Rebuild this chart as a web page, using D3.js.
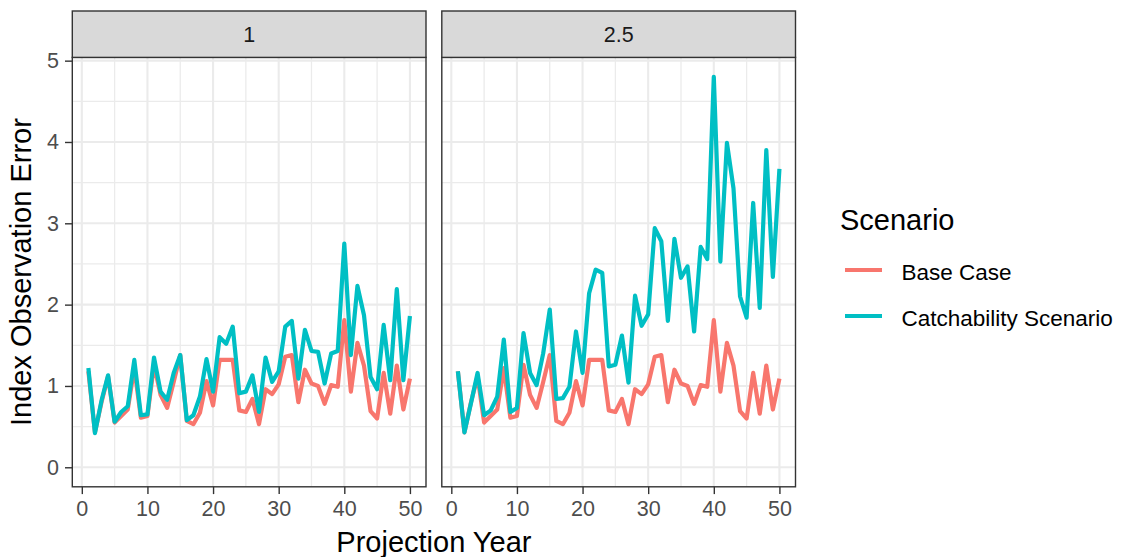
<!DOCTYPE html>
<html>
<head>
<meta charset="utf-8">
<script src="https://cdn.jsdelivr.net/npm/d3@7"></script>
<style>
  html, body { margin: 0; padding: 0; background: #ffffff; }
  svg { display: block; font-family: "Liberation Sans", Arial, sans-serif; }
</style>
</head>
<body>
<svg id="chart" width="1124" height="557"></svg>
<script>
// ---------------- data ----------------
const years = d3.range(1, 51);
const facets = ["1", "2.5"];
const scenarios = ["Base Case", "Catchability Scenario"];
const scenarioColors = ["#F8766D", "#00BFC4"];

const baseCase = [1.18, 0.43, 0.80, 1.12, 0.55, 0.63, 0.71, 1.22, 0.61, 0.63,
                  1.26, 0.89, 0.73, 1.05, 1.38, 0.57, 0.53, 0.67, 1.06, 0.76,
                  1.32, 1.32, 1.32, 0.70, 0.68, 0.84, 0.53, 0.96, 0.90, 1.02,
                  1.36, 1.38, 0.80, 1.20, 1.03, 1.00, 0.78, 1.01, 0.99, 1.81,
                  0.93, 1.53, 1.25, 0.69, 0.60, 1.16, 0.66, 1.25, 0.71, 1.09];

const catchability1 = [1.22, 0.42, 0.82, 1.13, 0.56, 0.68, 0.75, 1.32, 0.64, 0.65,
                       1.35, 0.93, 0.83, 1.16, 1.38, 0.58, 0.64, 0.87, 1.33, 0.93,
                       1.60, 1.52, 1.73, 0.91, 0.93, 1.13, 0.68, 1.35, 1.05, 1.18,
                       1.73, 1.80, 1.09, 1.69, 1.43, 1.42, 1.03, 1.40, 1.43, 2.75,
                       1.38, 2.23, 1.87, 1.11, 0.96, 1.75, 1.07, 2.19, 1.07, 1.86];

const catchability25 = [1.18, 0.43, 0.79, 1.16, 0.64, 0.70, 0.87, 1.57, 0.68, 0.73,
                        1.65, 1.16, 1.01, 1.40, 1.94, 0.84, 0.85, 0.99, 1.67, 1.16,
                        2.14, 2.43, 2.39, 1.24, 1.26, 1.62, 1.04, 2.11, 1.74, 1.88,
                        2.94, 2.78, 1.80, 2.81, 2.33, 2.47, 1.67, 2.71, 2.56, 4.80,
                        2.53, 3.99, 3.43, 2.10, 1.84, 3.25, 1.96, 3.90, 2.34, 3.67];

const xTicks = [0, 10, 20, 30, 40, 50];
const yTicks = [0, 1, 2, 3, 4, 5];

const facetSeries = [
  [baseCase, catchability1],
  [baseCase, catchability25]
];

// ---------------- layout ----------------
const svg = d3.select("#chart");
const panelW = 353.7, panelTop = 57.4, panelBottom = 486.8;
const panelLefts = [72.3, 441.8];
const stripTop = 11;

const allVals = [].concat(baseCase, catchability1, catchability25, [0]);
const yMin = d3.min(allVals), yMax = d3.max(allVals);
const yPad = (yMax - yMin) * 0.05;
const y = d3.scaleLinear().domain([yMin - yPad, yMax + yPad]).range([panelBottom, panelTop]);
const xPad = (d3.max(years) - d3.min(years)) * 0.05;
const xDomain = [d3.min(years) - xPad, d3.max(years) + xPad];

const gridMajor = "#EBEBEB", border = "#333333", tickCol = "#4D4D4D";

facets.forEach((f, fi) => {
  const left = panelLefts[fi];
  const x = d3.scaleLinear().domain(xDomain).range([left, left + panelW]);
  const g = svg.append("g");

  g.append("rect").attr("x", left).attr("y", panelTop).attr("width", panelW)
    .attr("height", panelBottom - panelTop).attr("fill", "#fff");

  const xMinor = [5, 15, 25, 35, 45];
  const yMinor = [0.5, 1.5, 2.5, 3.5, 4.5];
  g.selectAll(".xmin").data(xMinor).join("line")
    .attr("x1", d => x(d)).attr("x2", d => x(d))
    .attr("y1", panelTop).attr("y2", panelBottom)
    .attr("stroke", gridMajor).attr("stroke-width", 1.3);
  g.selectAll(".ymin").data(yMinor).join("line")
    .attr("y1", d => y(d)).attr("y2", d => y(d))
    .attr("x1", left).attr("x2", left + panelW)
    .attr("stroke", gridMajor).attr("stroke-width", 1.3);
  g.selectAll(".xmaj").data(xTicks).join("line")
    .attr("x1", d => x(d)).attr("x2", d => x(d))
    .attr("y1", panelTop).attr("y2", panelBottom)
    .attr("stroke", gridMajor).attr("stroke-width", 2.1);
  g.selectAll(".ymaj").data(yTicks).join("line")
    .attr("y1", d => y(d)).attr("y2", d => y(d))
    .attr("x1", left).attr("x2", left + panelW)
    .attr("stroke", gridMajor).attr("stroke-width", 2.1);

  const line = d3.line().x((d, i) => x(years[i])).y(d => y(d));
  facetSeries[fi].forEach((s, si) => {
    g.append("path").datum(s).attr("d", line)
      .attr("fill", "none").attr("stroke", scenarioColors[si])
      .attr("stroke-width", 4.2).attr("stroke-linejoin", "round").attr("stroke-linecap", "butt");
  });

  g.append("rect").attr("x", left).attr("y", panelTop).attr("width", panelW)
    .attr("height", panelBottom - panelTop).attr("fill", "none")
    .attr("stroke", border).attr("stroke-width", 1.4);

  g.append("rect").attr("x", left).attr("y", stripTop).attr("width", panelW)
    .attr("height", panelTop - stripTop).attr("fill", "#D9D9D9")
    .attr("stroke", border).attr("stroke-width", 1.4);
  g.append("text").attr("x", left + panelW / 2).attr("y", 42)
    .attr("text-anchor", "middle").attr("font-size", 21.5).attr("fill", "#1A1A1A").text(f);

  const xAxis = d3.axisBottom(x).tickValues(xTicks).tickFormat(d3.format("d")).tickSize(7.3).tickPadding(6);
  const xa = g.append("g").attr("transform", `translate(0,${panelBottom})`).call(xAxis);
  xa.select(".domain").remove();
  xa.selectAll(".tick line").attr("stroke", border).attr("stroke-width", 1.4);
  xa.selectAll(".tick text").attr("font-size", 21.5).attr("fill", tickCol)
    .attr("font-family", "Liberation Sans, Arial, sans-serif").attr("dy", "0.75em");

  if (fi === 0) {
    const yAxis = d3.axisLeft(y).tickValues(yTicks).tickFormat(d3.format("d")).tickSize(7.3).tickPadding(6);
    const ya = g.append("g").attr("transform", `translate(${left},0)`).call(yAxis);
    ya.select(".domain").remove();
    ya.selectAll(".tick line").attr("stroke", border).attr("stroke-width", 1.4);
    ya.selectAll(".tick text").attr("font-size", 21.5).attr("fill", tickCol)
      .attr("font-family", "Liberation Sans, Arial, sans-serif");
  }
});

svg.append("text").attr("x", (panelLefts[0] + panelLefts[1] + panelW) / 2).attr("y", 552)
  .attr("text-anchor", "middle").attr("font-size", 29).attr("fill", "#000").text("Projection Year");
svg.append("text").attr("transform", `translate(31,${(panelTop + panelBottom) / 2}) rotate(-90)`)
  .attr("text-anchor", "middle").attr("font-size", 29).attr("fill", "#000").text("Index Observation Error");

const leg = svg.append("g");
leg.append("text").attr("x", 840).attr("y", 230).attr("font-size", 29).attr("fill", "#000").text("Scenario");
const legY = [270, 316];
scenarios.forEach((s, i) => {
  leg.append("line").attr("x1", 845).attr("x2", 882).attr("y1", legY[i]).attr("y2", legY[i])
    .attr("stroke", scenarioColors[i]).attr("stroke-width", 4.2);
  leg.append("text").attr("x", 901.5).attr("y", legY[i] + 10).attr("font-size", 22.5)
    .attr("fill", "#000").text(s);
});
</script>
</body>
</html>
